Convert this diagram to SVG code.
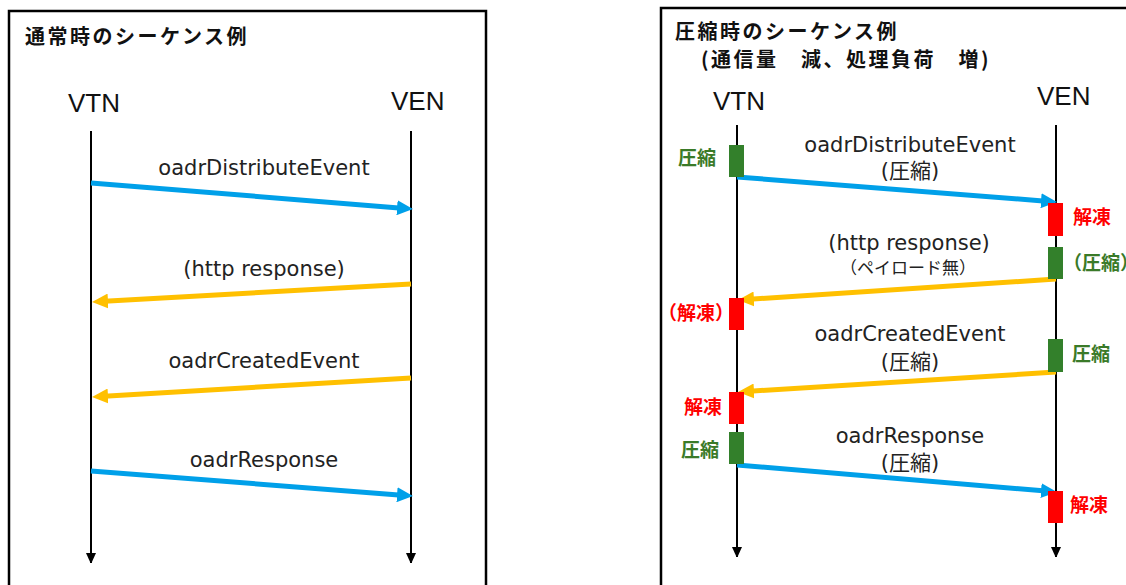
<svg xmlns="http://www.w3.org/2000/svg" width="1126" height="585" viewBox="0 0 1126 585">
  <style>
    .panel { fill: #ffffff; stroke: #000000; stroke-width: 2.5; }
    .title { font-family: "Noto Sans CJK JP", sans-serif; font-weight: bold; font-size: 20px; letter-spacing: 2.5px; fill: #111111; }
    .actor { font-family: "Liberation Sans", Arial, sans-serif; font-size: 26px; fill: #111111; }
    .life { stroke: #000000; stroke-width: 2; fill: none; }
    .msg { font-family: "DejaVu Sans", "Noto Sans CJK JP", sans-serif; font-size: 21px; fill: #222222; text-anchor: middle; }
    .note { font-family: "Noto Sans CJK JP", sans-serif; font-size: 17px; fill: #222222; text-anchor: middle; }
    .blue { stroke: #00A0E9; stroke-width: 5; fill: none; marker-end: url(#headBlue); }
    .orange { stroke: #FFC000; stroke-width: 5; fill: none; marker-end: url(#headOrange); }
    .zip { fill: #33802B; }
    .unzip { fill: #FF0000; }
    .ziptxt { font-family: "Noto Sans CJK JP", sans-serif; font-weight: bold; font-size: 19px; fill: #3A7A28; }
    .unziptxt { font-family: "Noto Sans CJK JP", sans-serif; font-weight: bold; font-size: 19px; fill: #FF0000; }
  </style>
  <defs>
    <marker id="headBlue" markerUnits="userSpaceOnUse" viewBox="0 0 16 15" refX="8" refY="7.5" markerWidth="16" markerHeight="15" orient="auto">
      <path d="M0,0 L16,7.5 L0,15 Z" fill="#00A0E9"/>
    </marker>
    <marker id="headOrange" markerUnits="userSpaceOnUse" viewBox="0 0 16 15" refX="8" refY="7.5" markerWidth="16" markerHeight="15" orient="auto">
      <path d="M0,0 L16,7.5 L0,15 Z" fill="#FFC000"/>
    </marker>
    <marker id="headLife" markerUnits="userSpaceOnUse" viewBox="0 0 10 11" refX="10" refY="5" markerWidth="10" markerHeight="11" orient="auto">
      <path d="M0,0 L11,5 L0,10 Z" fill="#000000"/>
    </marker>
  </defs>

  <rect width="1126" height="585" fill="#ffffff"/>

  <!-- Normal sequence panel -->
  <g id="panel-normal">
    <rect class="panel" x="9" y="11" width="477" height="620"/>
    <text class="title" x="25" y="44">通常時のシーケンス例</text>
  </g>
  <g id="vtn-normal">
    <text class="actor" x="68" y="112">VTN</text>
    <line class="life" x1="91" y1="131" x2="91" y2="563" marker-end="url(#headLife)"/>
  </g>
  <g id="ven-normal">
    <text class="actor" x="391" y="110">VEN</text>
    <line class="life" x1="411" y1="131" x2="411" y2="563" marker-end="url(#headLife)"/>
  </g>

  <!-- Compressed sequence panel -->
  <g id="panel-compressed">
    <rect class="panel" x="661" y="8" width="500" height="620"/>
    <text class="title" x="675" y="39">圧縮時のシーケンス例</text>
    <text class="title" x="701" y="67">(通信量　減、処理負荷　増)</text>
  </g>
  <g id="vtn-compressed">
    <text class="actor" x="713" y="110">VTN</text>
    <line class="life" x1="737" y1="125" x2="737" y2="557" marker-end="url(#headLife)"/>
  </g>
  <g id="ven-compressed">
    <text class="actor" x="1037" y="105">VEN</text>
    <line class="life" x1="1056" y1="125" x2="1056" y2="557" marker-end="url(#headLife)"/>
  </g>

  <!-- Messages -->
  <g id="connectors">
    <path class="blue" d="M91,183 L405,208.4"/>
    <path class="orange" d="M411,284 L100,301.5"/>
    <path class="orange" d="M411,378 L100,396.5"/>
    <path class="blue" d="M91,471 L405,495.4"/>

    <path class="blue" d="M737,177 L1049,201.4"/>
    <path class="orange" d="M1056,279 L746,299.5"/>
    <path class="orange" d="M1056,372 L746,391.5"/>
    <path class="blue" d="M737,465 L1049,491.3"/>
  </g>

  <g id="labels-normal">
    <text class="msg" x="264" y="175">oadrDistributeEvent</text>
    <text class="msg" x="264" y="276">(http response)</text>
    <text class="msg" x="264" y="368">oadrCreatedEvent</text>
    <text class="msg" x="264" y="467">oadrResponse</text>
  </g>

  <g id="labels-compressed">
    <text class="msg" x="910" y="152">oadrDistributeEvent</text>
    <text class="msg" x="910" y="178">(圧縮)</text>
    <text class="msg" x="909" y="250">(http response)</text>
    <text class="note" x="908" y="274">（ペイロード無）</text>
    <text class="msg" x="910" y="341">oadrCreatedEvent</text>
    <text class="msg" x="910" y="369">(圧縮)</text>
    <text class="msg" x="910" y="443">oadrResponse</text>
    <text class="msg" x="910" y="470">(圧縮)</text>
  </g>

  <!-- Compress / decompress activations -->
  <g id="act-vtn-zip1">
    <rect class="zip" x="729" y="145" width="15" height="32"/>
    <text class="ziptxt" x="716" y="165" text-anchor="end">圧縮</text>
  </g>
  <g id="act-ven-unzip1">
    <rect class="unzip" x="1048" y="203" width="15" height="33"/>
    <text class="unziptxt" x="1073" y="224">解凍</text>
  </g>
  <g id="act-ven-zip2">
    <rect class="zip" x="1048" y="247" width="15" height="32"/>
    <text class="ziptxt" x="1063" y="270">（圧縮）</text>
  </g>
  <g id="act-vtn-unzip2">
    <text class="unziptxt" x="734" y="320" text-anchor="end">（解凍）</text>
    <rect class="unzip" x="729" y="298" width="15" height="32"/>
  </g>
  <g id="act-ven-zip3">
    <rect class="zip" x="1048" y="339" width="15" height="33"/>
    <text class="ziptxt" x="1072" y="361">圧縮</text>
  </g>
  <g id="act-vtn-unzip3">
    <rect class="unzip" x="729" y="392" width="15" height="32"/>
    <text class="unziptxt" x="722" y="414" text-anchor="end">解凍</text>
  </g>
  <g id="act-vtn-zip4">
    <rect class="zip" x="729" y="432" width="15" height="32"/>
    <text class="ziptxt" x="719" y="457" text-anchor="end">圧縮</text>
  </g>
  <g id="act-ven-unzip4">
    <rect class="unzip" x="1048" y="491" width="15" height="32"/>
    <text class="unziptxt" x="1070" y="512">解凍</text>
  </g>
</svg>
